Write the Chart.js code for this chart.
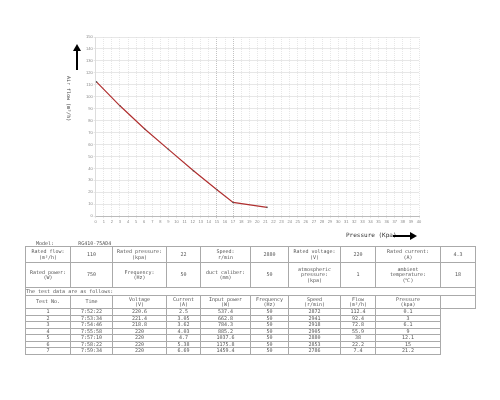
<!DOCTYPE html>
<html><head><meta charset="utf-8">
<script src="https://cdn.jsdelivr.net/npm/chart.js@4"></script>
<style>
body{margin:0;background:#fff;font-family:"DejaVu Sans Mono",monospace;}
#wrap{position:relative;width:500px;height:400px;}
canvas{position:absolute;left:0;top:0;}
.ylab{position:absolute;left:72px;top:76px;transform-origin:0 0;transform:rotate(90deg);font-size:5px;color:#444;white-space:nowrap;}
.xlab{position:absolute;left:346px;top:231px;font-size:6px;color:#333;}
.arr{position:absolute;background:#000;}
table{position:absolute;left:25px;top:246px;border-collapse:collapse;font-size:5px;color:#555;table-layout:fixed;width:450px;}
td{border:1px solid #aaa;text-align:center;padding:0;line-height:5.5px;overflow:hidden;}
.model{position:absolute;left:36px;top:240px;font-size:5px;color:#555;}
</style></head><body>
<div id="wrap">
<canvas id="c" width="500" height="245"></canvas>
<div class="arr" style="left:76px;top:50px;width:1.5px;height:20px"></div>
<div style="position:absolute;left:73px;top:44px;width:0;height:0;border-left:4px solid transparent;border-right:4px solid transparent;border-bottom:7px solid #000"></div>
<div class="ylab">Air flow (m³/h)</div>
<div class="xlab">Pressure (Kpa)</div>
<div class="arr" style="left:393px;top:235px;width:18px;height:1.5px"></div>
<div style="position:absolute;left:410px;top:232px;width:0;height:0;border-top:4px solid transparent;border-bottom:4px solid transparent;border-left:7px solid #000"></div>
<div class="model">Model: &nbsp;&nbsp;&nbsp;&nbsp;&nbsp;&nbsp;&nbsp;RG410-75AD4</div>
<table id="t"></table>
</div>
<script>
const pressure = [0.1, 3, 6.1, 9, 12.1, 15, 17, 21.2];
const flow = [112.4, 92.4, 72.8, 55.9, 38, 22.2, 11.5, 7.4];

const headers = ['Test No.', 'Time', 'Voltage<br>(V)', 'Current<br>(A)', 'Input power<br>(W)', 'Frequency<br>(Hz)', 'Speed<br>(r/min)', 'Flow<br>(m³/h)', 'Pressure<br>(kpa)'];
const testNo = ['1', '2', '3', '4', '5', '6', '7'];
const times = ['7:52:22', '7:53:34', '7:54:46', '7:55:58', '7:57:10', '7:58:22', '7:59:34'];
const voltage = ['220.6', '221.4', '218.8', '220', '220', '220', '220'];
const current = ['2.5', '3.05', '3.62', '4.03', '4.7', '5.38', '6.69'];
const inputPower = ['537.4', '662.8', '784.3', '885.2', '1037.6', '1175.8', '1459.4'];
const freq = ['50', '50', '50', '50', '50', '50', '50'];
const speed = ['2872', '2941', '2918', '2905', '2880', '2853', '2786'];
const flowTbl = ['112.4', '92.4', '72.8', '55.9', '38', '22.2', '7.4'];
const pressTbl = ['0.1', '3', '6.1', '9', '12.1', '15', '21.2'];

const widths = [45, 42, 54, 34, 50, 38, 52, 35, 65, 35];
let h = '<colgroup>' + widths.map(w => `<col style="width:${w}px">`).join('') + '</colgroup>';
h += '<tr style="height:16px"><td>Rated flow:<br>(m³/h)</td><td>110</td><td>Rated pressure:<br>(kpa)</td><td>22</td><td>Speed:<br>r/min</td><td>2880</td><td>Rated voltage:<br>(V)</td><td>220</td><td>Rated current:<br>(A)</td><td>4.3</td></tr>';
h += '<tr style="height:25px"><td>Rated power:<br>(W)</td><td>750</td><td>Frequency:<br>(Hz)</td><td>50</td><td>duct caliber:<br>(mm)</td><td>50</td><td>atmospheric<br>pressure:<br>(kpa)</td><td>1</td><td>ambient<br>temperature:<br>(℃)</td><td>18</td></tr>';
h += '<tr style="height:8px"><td colspan="10" style="text-align:left">The test data are as follows:</td></tr>';
h += '<tr style="height:13px">' + headers.map(x => `<td>${x}</td>`).join('') + '<td></td></tr>';
for (let i = 0; i < testNo.length; i++) {
  h += '<tr style="height:6.4px">' + [testNo[i], times[i], voltage[i], current[i], inputPower[i], freq[i], speed[i], flowTbl[i], pressTbl[i]].map(x => `<td>${x}</td>`).join('') + '<td style="border:none"></td></tr>';
}
document.getElementById('t').innerHTML = h;

new Chart(document.getElementById('c'), {
  type: 'scatter',
  data: {
    datasets: [{
      data: pressure.map((p, i) => ({ x: p, y: flow[i] })),
      showLine: true,
      borderColor: '#b03030',
      borderWidth: 1.2,
      pointRadius: 0.8,
      pointBackgroundColor: '#555',
      pointBorderWidth: 0
    }]
  },
  options: {
    responsive: false,
    animation: false,
    layout: { padding: { left: 85, right: 81, top: 37, bottom: 20 } },
    plugins: { legend: { display: false }, tooltip: { enabled: false } },
    scales: {
      x: {
        type: 'linear', min: 0, max: 40,
        ticks: { stepSize: 1, font: { size: 4 }, color: '#888', padding: 1, maxRotation: 0, autoSkip: false },
        grid: { color: c => (c.tick.value === 15 || c.tick.value === 17) ? '#aaa' : '#ddd', lineWidth: 0.7, tickLength: 2 },
        border: { color: '#bbb', dash: [1, 1] }
      },
      y: {
        min: 0, max: 150,
        ticks: { stepSize: 10, font: { size: 4 }, color: '#888', padding: 1 },
        grid: { color: '#ddd', lineWidth: 0.7, tickLength: 2 },
        border: { color: '#ddd' }
      }
    }
  }
});
</script>
</body></html>
